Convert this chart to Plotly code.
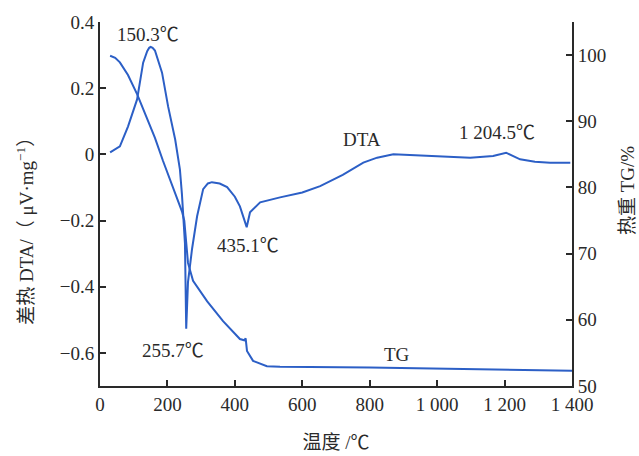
import plotly.graph_objects as go

# DTA curve (left axis, μV/mg)
dta_T = [30, 59, 83, 110, 128, 140, 146, 150.3, 156, 163, 184, 202, 223, 237, 243, 246, 252, 255.7,
         261, 273, 288, 306, 320, 332, 355, 377, 400, 415, 425, 435.1, 445, 475, 534, 600, 653,
         720, 781, 822, 870, 950, 1030, 1098, 1166, 1204.5, 1246, 1290, 1335, 1395]
dta_V = [0.006, 0.024, 0.084, 0.166, 0.277, 0.312, 0.322, 0.325, 0.322, 0.314, 0.247, 0.145, 0.045,
         -0.045, -0.12, -0.18, -0.27, -0.527,
         -0.386, -0.286, -0.187, -0.105, -0.088, -0.084, -0.088, -0.099, -0.128, -0.157, -0.186,
         -0.22, -0.175, -0.145, -0.13, -0.115, -0.096,
         -0.062, -0.025, -0.01, 0.0, -0.003, -0.006, -0.01, -0.005, 0.005, -0.015, -0.022, -0.025, -0.025]

# TG curve (right axis, %)
tg_T = [30, 45, 59, 70, 83, 110, 134, 163, 187, 215, 243, 250, 255, 261, 276, 318, 365, 415, 428,
        432, 436, 454, 495, 534, 800, 1100, 1400]
tg_V = [99.9, 99.6, 98.9, 98.1, 97.0, 94.1, 91.1, 87.5, 84.0, 80.2, 76.4, 75.0, 72.5, 68.6, 65.9, 62.8,
        59.8, 57.1, 56.9, 57.2, 55.3, 53.8, 53.0, 52.9, 52.8, 52.6, 52.3]

x_tickvals = [0, 200, 400, 600, 800, 1000, 1200, 1400]
x_ticktext = ["0", "200", "400", "600", "800", "1 000", "1 200", "1 400"]
y1_tickvals = [-0.6, -0.4, -0.2, 0, 0.2, 0.4]
y1_ticktext = ["\u22120.6", "\u22120.4", "\u22120.2", "0", "0.2", "0.4"]
y2_tickvals = [50, 60, 70, 80, 90, 100]

labels = [
    ("150.3\u2103", 142, 0.361),
    ("255.7\u2103", 217, -0.593),
    ("435.1\u2103", 439, -0.274),
    ("DTA", 777, 0.045),
    ("1 204.5\u2103", 1178, 0.066),
    ("TG", 881, -0.605),
]

BLUE = "#2c5fc6"
AX = "#2a2a2a"
FONT = "Liberation Serif, Times New Roman, Noto Sans CJK SC, serif"

fig = go.Figure()
fig.add_trace(go.Scatter(x=dta_T, y=dta_V, mode="lines", line=dict(color=BLUE, width=2),
                         showlegend=False, hoverinfo="skip"))
fig.add_trace(go.Scatter(x=tg_T, y=tg_V, mode="lines", line=dict(color=BLUE, width=2),
                         yaxis="y2", showlegend=False, hoverinfo="skip"))

for text, xv, yv in labels:
    fig.add_annotation(x=xv, y=yv, xref="x", yref="y", text=text, showarrow=False,
                       font=dict(family=FONT, size=19, color="#2a2a2a"))

# axis titles placed as rotated annotations
fig.add_annotation(x=-0.159, y=0.44, xref="paper", yref="paper", textangle=-90,
                   text="差热 DTA/（ μV·mg<sup>−1</sup>）", showarrow=False,
                   xanchor="center", yanchor="middle",
                   font=dict(family=FONT, size=19, color="#2a2a2a"))
fig.add_annotation(x=1.119, y=0.536, xref="paper", yref="paper", textangle=-90,
                   text="热重 TG/%", showarrow=False,
                   xanchor="center", yanchor="middle",
                   font=dict(family=FONT, size=19, color="#2a2a2a"))

fig.update_layout(
    width=639, height=456,
    margin=dict(l=100, r=67, t=22, b=70),
    paper_bgcolor="white", plot_bgcolor="white",
    font=dict(family=FONT, size=19, color="#2a2a2a"),
    xaxis=dict(range=[0, 1400], tickvals=x_tickvals, ticktext=x_ticktext, automargin=False,
               ticks="inside", ticklen=6, tickwidth=1.5, tickcolor=AX,
               showline=True, linecolor=AX, linewidth=2, showgrid=False, zeroline=False,
               title=dict(text="温度 /\u2103", standoff=22, font=dict(size=19)),
               tickfont=dict(size=19)),
    yaxis=dict(range=[-0.7, 0.4], tickvals=y1_tickvals, ticktext=y1_ticktext, automargin=False,
               ticks="inside", ticklen=6, tickwidth=1.5, tickcolor=AX,
               showline=True, linecolor=AX, linewidth=2, showgrid=False, zeroline=False,
               tickfont=dict(size=19)),
    yaxis2=dict(range=[50, 105], tickvals=y2_tickvals, overlaying="y", side="right", automargin=False,
                ticks="inside", ticklen=6, tickwidth=1.5, tickcolor=AX,
                showline=True, linecolor=AX, linewidth=2, showgrid=False, zeroline=False,
                tickfont=dict(size=19)),
)

fig.write_html("out.html", config={"displayModeBar": False},
               post_script="document.body.style.margin='0';document.body.style.overflow='hidden';")
